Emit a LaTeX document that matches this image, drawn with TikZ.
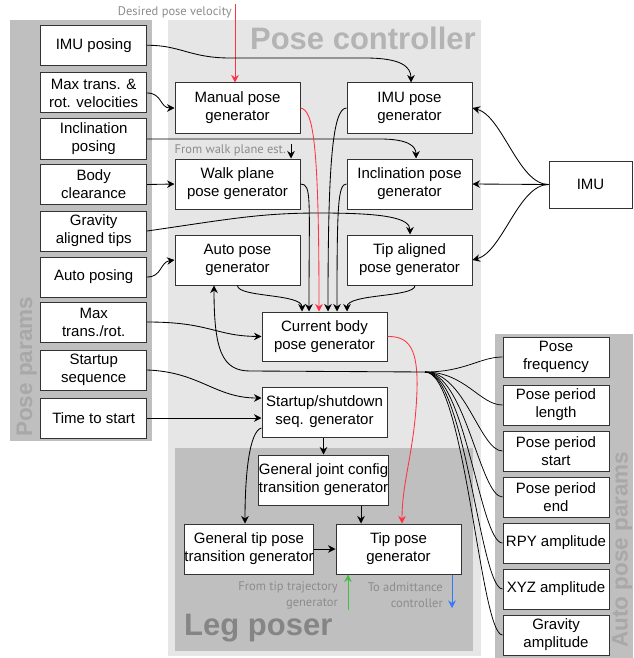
\documentclass[tikz,border=0pt]{standalone}
\usepackage{fontspec}
\setmainfont{Liberation Sans}
\newfontfamily\notefont{PT Sans}
\usetikzlibrary{arrows.meta}

\definecolor{panedark}{HTML}{BFBFBF}
\definecolor{panelight}{HTML}{E6E6E6}
\definecolor{titlelight}{HTML}{B4B4B4}
\definecolor{titlemid}{HTML}{A8A8A8}
\definecolor{titledark}{HTML}{858585}
\definecolor{notegray}{HTML}{8C8C8C}
\definecolor{posered}{HTML}{FF3344}
\definecolor{inputgreen}{HTML}{44BB44}
\definecolor{outputblue}{HTML}{3377FF}

\newcommand\boxfont{\fontsize{15}{18}\selectfont}
\newcommand\notesize{\notefont\fontsize{12.5}{16}\selectfont}
\newcommand\titlefont{\bfseries\fontsize{31}{31}\selectfont}
\newcommand\sidefont{\bfseries\fontsize{22.5}{23}\selectfont}

\tikzset{
  box/.style={draw=black!80, line width=1pt, fill=white, inner sep=0pt,
    align=center, font=\boxfont},
  parbox/.style={box, minimum width=106pt, minimum height=40pt},
  genbox/.style={box, minimum width=125pt, minimum height=50pt},
  link/.style={line width=0.85pt},
  arr/.style={link, -{Stealth[length=7.5pt,width=7.5pt,inset=2.5pt]}},
  note/.style={font=\notesize, text=notegray, inner sep=0pt, align=right},
}

\begin{document}
\begin{tikzpicture}[x=1pt, y=-1pt]
\useasboundingbox (0,0) rectangle (633,658);

% background panels
\fill[panedark] (10,20) rectangle (152,441);
\fill[panelight] (168,20) rectangle (481,656);
\fill[panedark] (175,448) rectangle (473,651);
\fill[panedark] (495,334) rectangle (633,658);

% panel titles
\node[anchor=base east, font=\titlefont, text=titlelight, inner sep=0pt] (tctrl) at (476,50) {Pose controller};
\node[anchor=base west, font=\titlefont, text=titledark, inner sep=0pt] (tleg) at (184,635) {Leg poser};
\node[rotate=90, anchor=base west, font=\sidefont, text=titlemid, inner sep=0pt] (tpar) at (32,437) {Pose params};
\node[rotate=90, anchor=base west, font=\sidefont, text=titlemid, inner sep=0pt] (tauto) at (627.5,648) {Auto pose params};

% pose parameters
\node[parbox] (lp1) at (93.7,45.3) {IMU posing};
\node[parbox] (lp2) at (93.7,93) {Max trans. \&\\rot. velocities};
\node[parbox] (lp3) at (93.7,139) {Inclination\\posing};
\node[parbox] (lp4) at (93.7,184.5) {Body\\clearance};
\node[parbox] (lp5) at (93.7,231) {Gravity\\aligned tips};
\node[parbox] (lp6) at (93.7,277) {Auto posing};
\node[parbox] (lp7) at (93.7,322) {Max\\trans./rot.};
\node[parbox] (lp8) at (93.7,370) {Startup\\sequence};
\node[parbox] (lp9) at (93.7,418) {Time to start};

% pose generators
\node[genbox] (man) at (237.5,108) {Manual pose\\generator};
\node[genbox] (walk) at (237.5,184) {Walk plane\\pose generator};
\node[genbox] (auto) at (237.5,260) {Auto pose\\generator};
\node[genbox] (imup) at (409.5,108) {IMU pose\\generator};
\node[genbox] (incl) at (409.5,184) {Inclination pose\\generator};
\node[genbox] (tipal) at (409.5,260) {Tip aligned\\pose generator};
\node[genbox, minimum height=49pt] (cur) at (324.5,336.5) {Current body\\pose generator};
\node[genbox] (start) at (324.5,412) {Startup/shutdown\\seq. generator};

% leg poser
\node[genbox] (gjc) at (323.5,480) {General joint config\\transition generator};
\node[genbox, minimum width=126pt] (gtp) at (249,549) {General tip pose\\transition generator};
\node[genbox] (tpg) at (398.5,549) {Tip pose\\generator};

% IMU
\node[box, minimum width=83pt, minimum height=47pt] (imu) at (590.5,184.5) {IMU};

% auto pose parameters
\node[parbox] (ap1) at (556,357) {Pose\\frequency};
\node[parbox] (ap2) at (556,405) {Pose period\\length};
\node[parbox] (ap3) at (556,451) {Pose period\\start};
\node[parbox] (ap4) at (556,497) {Pose period\\end};
\node[parbox] (ap5) at (556,543) {RPY amplitude};
\node[parbox] (ap6) at (556,589) {XYZ amplitude};
\node[parbox] (ap7) at (556,635) {Gravity\\amplitude};

% external inputs and outputs
\node[note, anchor=east] (ndes) at (232,12) {Desired pose velocity};
\coordinate (dsrc) at (235,4);
\node[note, anchor=east] (nwalk) at (286,150) {From walk plane est.};
\coordinate (wsrc) at (291,144);
\node[note, anchor=east] (ntraj) at (338,595) {From tip trajectory\\generator};
\coordinate (gsrc) at (348,610);
\node[note, anchor=east] (nadm) at (443,595) {To admittance\\controller};
\coordinate (bdst) at (452,608);

\draw[arr, posered] (dsrc) -- ([xshift=-2.5pt]man.north);
\draw[arr] (wsrc) -- ([xshift=53.5pt]walk.north);
\draw[arr, inputgreen] (gsrc) -- ([xshift=-50.5pt]tpg.south);
\draw[arr, outputblue] ([xshift=53.5pt]tpg.south) -- (bdst);

% parameters into generators
\draw[arr] (lp1.east) .. controls (180,45) and (190,58) .. (230,58) -- (365,58)
  .. controls (400,58) and (411,66) .. ([xshift=1.5pt]imup.north);
\draw[arr] (lp2.east) .. controls (162,93) and (160,108) .. (man.west);
\draw[arr] (lp3.east) -- (380,139) .. controls (408,139) and (416,146) .. ([xshift=6.5pt]incl.north);
\draw[arr] (lp4.east) -- (walk.west);
\draw[arr] (lp5.east) .. controls (230,219) and (260,213) .. (320,213)
  .. controls (385,213) and (410,218) .. ([xshift=0.5pt]tipal.north);
\draw[arr] (lp6.east) .. controls (162,277) and (160,262) .. (auto.west);
\draw[arr] (lp7.east) .. controls (210,322) and (215,336) .. (cur.west);
\draw[arr] (lp8.east) .. controls (200,372) and (215,398) .. ([yshift=14pt]start.west);
\draw[arr] (lp9.east) -- (lp9.east -| start.west);

% IMU into generators
\draw[arr] (imu.west) .. controls +(-30,0) and +(30,8) .. (imup.east);
\draw[arr] (imu.west) -- (incl.east);
\draw[arr] (imu.west) .. controls +(-30,0) and +(30,-8) .. (tipal.east);

% generators into the current body pose
\draw[arr] (auto.south) .. controls +(0,12) and +(0,-18) .. ([xshift=-22.5pt]cur.north);
\draw[arr] (walk.east) .. controls (312,184) and (309,198) .. ([xshift=-15.5pt]cur.north);
\draw[arr, posered] (man.east) .. controls (313,110) and (319,140) .. ([xshift=-5.5pt]cur.north);
\draw[arr] (imup.west) .. controls (332,108) and (328,170) .. ([xshift=3.5pt]cur.north);
\draw[arr] (incl.west) .. controls (338,184) and (337,205) .. ([xshift=12.5pt]cur.north);
\draw[arr] ([xshift=5.5pt]tipal.south) .. controls +(0,12) and +(0,-18) .. ([xshift=22.5pt]cur.north);

% current body pose into the tip pose
\draw[arr, posered] (cur.east) .. controls (410,336) and (418,350) .. (417,390)
  .. controls (415,450) and (402,480) .. ([xshift=3.5pt]tpg.north);

% startup sequence and transitions
\draw[arr] ([xshift=-1pt]start.south) -- (gjc.north);
\draw[arr] ([yshift=-16pt]start.west) .. controls +(-12,3) and +(0,-50) .. ([xshift=-4pt]gtp.north);
\draw[arr] ([xshift=37.5pt]gjc.south) -- ([xshift=-37.5pt]tpg.north);
\draw[arr] (gtp.east) -- (tpg.west);

% auto pose parameters into the auto pose generator
\coordinate (fan) at (425,372);
\draw[arr] (fan) -- (250,371) .. controls (222,371) and (214,350) .. ([xshift=-23.5pt]auto.south);
\foreach \n in {ap1,ap2,ap3,ap4,ap5,ap6,ap7}
  \draw[link, line width=0.75pt] (fan) .. controls (465,372) and (480,0 |- \n.west) .. (\n.west);
\end{tikzpicture}
\end{document}
